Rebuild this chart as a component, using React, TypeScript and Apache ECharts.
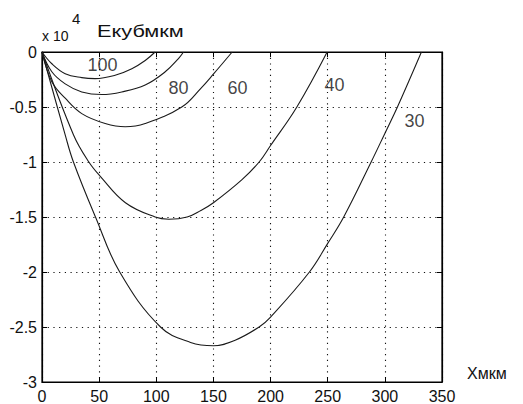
import React, { useEffect, useRef } from "react";
import * as echarts from "echarts";

// Curve data (y in units of 10^4)
const x100 = [0, 8.6, 20.3, 34.8, 46.5, 64, 78.6, 90.3, 99];
const y100 = [0, -0.107, -0.197, -0.233, -0.242, -0.212, -0.152, -0.077, 0];

const x80 = [0, 8.6, 20.3, 34.8, 52.3, 69.8, 90.3, 107.8, 119.4, 123.8];
const y80 = [0, -0.18, -0.29, -0.363, -0.387, -0.363, -0.3, -0.18, -0.06, 0];

const x60 = [0, 8.6, 20.3, 34.8, 55.3, 72.8, 90.3, 122.3, 139, 150.3, 166.4];
const y60 = [0, -0.27, -0.42, -0.56, -0.65, -0.68, -0.65, -0.5, -0.33, -0.197, 0];

const x40 = [0, 27.6, 41, 51, 73, 99, 111, 127, 139, 150, 175, 190, 200, 223, 249.5];
const y40 = [0, -0.754, -1, -1.13, -1.37, -1.5, -1.52, -1.5, -1.44, -1.37, -1.16, -1, -0.85, -0.5, 0];

const x30 = [0, 20.3, 27.5, 46.8, 68, 103.7, 130, 150, 169, 190, 200, 234, 250, 264, 288, 300, 311, 332];
const y30 = [0, -0.754, -1, -1.5, -2, -2.5, -2.64, -2.67, -2.62, -2.5, -2.41, -2, -1.74, -1.5, -1, -0.74, -0.5, 0];

const curveNames = ["100", "80", "60", "40", "30"];
const labelX = [52.9, 119.4, 171, 255.9, 325.9];
const labelY = [-0.122, -0.33, -0.33, -0.298, -0.623];

const xTicks = [0, 50, 100, 150, 200, 250, 300, 350];
const yTicks = [0, -0.5, -1, -1.5, -2, -2.5, -3];

const titleText = "Екубмкм";
const xAxisText = "Xмкм";

const FONT = "'Liberation Sans', Arial, sans-serif";

function zip(xs: number[], ys: number[]) {
  return xs.map((x, i) => [x, ys[i]]);
}

export default function App() {
  const ref = useRef<HTMLDivElement>(null);
  useEffect(() => {
    if (!ref.current) return;
    const chart = echarts.init(ref.current, undefined, { renderer: "svg" });
    const curves = [
      zip(x100, y100),
      zip(x80, y80),
      zip(x60, y60),
      zip(x40, y40),
      zip(x30, y30),
    ];
    const lineSeries = curves.map((d, i) => ({
      name: curveNames[i],
      type: "line",
      data: d,
      smooth: 0.4,
      showSymbol: false,
      symbol: "none",
      lineStyle: { color: "#1a1a1a", width: 1.1 },
      xAxisIndex: 0,
      yAxisIndex: 0,
      z: 3,
    }));
    const xMin = xTicks[0];
    const xMax = xTicks[xTicks.length - 1];
    const yMin = yTicks[yTicks.length - 1];
    const yMax = yTicks[0];
    const xInt = xTicks[1] - xTicks[0];
    const yInt = yTicks[0] - yTicks[1];
    const dotted = { color: "#111", width: 1.1, type: [1.2, 4.5] as any };
    const frameAxis = {
      axisLine: { show: true, onZero: false, lineStyle: { color: "#000", width: 1.2 } },
      axisTick: { show: true, inside: true, length: 5, lineStyle: { color: "#000" } },
    };
    chart.setOption({
      animation: false,
      backgroundColor: "#fff",
      grid: {
        left: 42,
        top: 52,
        width: 400,
        height: 331,
        show: true,
        borderColor: "#000",
        borderWidth: 1.2,
      },
      xAxis: [
        {
          type: "value",
          min: xMin,
          max: xMax,
          interval: xInt,
          position: "bottom",
          ...frameAxis,
          axisLabel: { color: "#111", fontSize: 16, fontFamily: FONT, margin: 6 },
          splitLine: { show: true, lineStyle: dotted },
        },
        {
          type: "value",
          min: xMin,
          max: xMax,
          interval: xInt,
          position: "top",
          ...frameAxis,
          axisLabel: { show: false },
          splitLine: { show: false },
        },
      ],
      yAxis: [
        {
          type: "value",
          min: yMin,
          max: yMax,
          interval: yInt,
          position: "left",
          ...frameAxis,
          axisLabel: { color: "#111", fontSize: 16, fontFamily: FONT, margin: 5 },
          splitLine: { show: true, lineStyle: dotted },
        },
        {
          type: "value",
          min: yMin,
          max: yMax,
          interval: yInt,
          position: "right",
          ...frameAxis,
          axisLabel: { show: false },
          splitLine: { show: false },
        },
      ],
      series: [
        ...lineSeries,
        {
          type: "scatter",
          xAxisIndex: 0,
          yAxisIndex: 0,
          symbolSize: 1,
          itemStyle: { color: "rgba(0,0,0,0)" },
          data: labelX.map((x, i) => ({ value: [x, labelY[i]], name: curveNames[i] })),
          label: {
            show: true,
            position: "inside",
            formatter: (p: any) => p.name,
            color: "#111",
            fontSize: 18,
            fontFamily: FONT,
            align: "center",
            verticalAlign: "middle",
          },
          z: 4,
        },
      ],
      graphic: [
        {
          type: "text",
          x: 97,
          y: 22,
          scaleX: 1.28,
          style: { text: titleText, fill: "#111", fontSize: 17, fontFamily: FONT },
        },
        {
          type: "text",
          left: 42,
          top: 29,
          style: { text: "x 10", fill: "#111", fontSize: 14, fontFamily: FONT },
        },
        {
          type: "text",
          left: 72,
          top: 11,
          style: { text: "4", fill: "#111", fontSize: 15, fontFamily: FONT },
        },
        {
          type: "text",
          left: 467,
          top: 365,
          style: { text: xAxisText, fill: "#111", fontSize: 16, fontFamily: FONT },
        },
      ],
    });
    return () => chart.dispose();
  }, []);
  return (
    <div
      ref={ref}
      style={{ position: "fixed", left: 0, top: 0, width: 523, height: 404, background: "#fff" }}
    />
  );
}
